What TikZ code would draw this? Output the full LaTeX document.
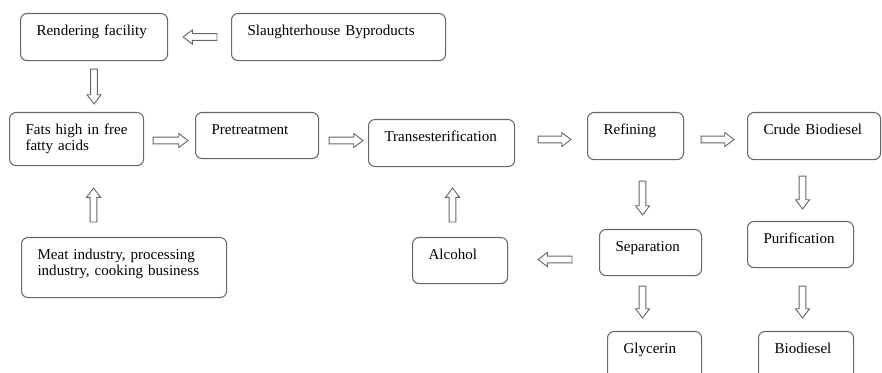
\documentclass[tikz,border=0pt]{standalone}
\usepackage{fontspec}
\setmainfont{Liberation Serif}
\usetikzlibrary{calc}

\begin{document}
\begin{tikzpicture}[
        x=0.025cm, y=-0.025cm,
        font=\fontsize{10.7}{11.4}\selectfont,
        box/.style 2 args={draw=black!60, line width=0.75pt, rectangle, rounded corners=0.16cm,
            anchor=north west, align=left, inner xsep=0.4cm, inner ysep=0pt,
            text height=0.55cm, text width=#1, text depth=#2},
        blockarrow/.style={draw=black!60, line width=0.65pt, to path={
            let \p1=(\tikztostart), \p2=(\tikztotarget),
                \n1={atan2(\y2-\y1,\x2-\x1)}, \n2={veclen(\x2-\x1,\y2-\y1)-6.6pt} in
            ($(\p1)+(\n1+90:2.4pt)$) -- ++(\n1:\n2*1pt) -- ++(\n1+90:2.6pt) -- (\p2)
            -- ($(\p1)+(\n1:\n2*1pt)+(\n1-90:5pt)$) -- ++(\n1+90:2.6pt)
            -- ($(\p1)+(\n1-90:2.4pt)$) -- cycle}}
    ]
        \clip (0,0) rectangle (882,373);

        \node[box={2.875cm}{0.625cm}] (rend) at (20,13) {Rendering facility};
        \node[box={4.55cm}{0.625cm}] (slaughter) at (231,13) {Slaughterhouse Byproducts};
        \node[box={2.55cm}{0.775cm}] (fats) at (9,112) {Fats high in free\\fatty acids};
        \node[box={2.275cm}{0.6cm}] (pretreat) at (195,112) {Pretreatment};
        \node[box={2.85cm}{0.625cm}] (trans) at (368,119) {Transesterification};
        \node[box={1.6cm}{0.625cm}] (refine) at (587,112) {Refining};
        \node[box={2.525cm}{0.625cm}] (crude) at (747,112) {Crude~Biodiesel};
        \node[box={4.325cm}{0.95cm}] (meat) at (21,237) {Meat industry, processing\\industry, cooking business};
        \node[box={1.575cm}{0.6cm}] (alcohol) at (412,237) {Alcohol};
        \node[box={1.75cm}{0.6cm}] (separate) at (599,229) {Separation};
        \node[box={1.85cm}{0.6cm}] (purify) at (747,221) {Purification};
        \node[box={1.55cm}{0.7cm}] (glycerin) at (607,331) {Glycerin};
        \node[box={1.575cm}{0.7cm}] (biodiesel) at (758,331) {Biodiesel};

        \draw[blockarrow] ($(slaughter.west)+(-14,0)$) to ($(rend.east)+(15,0)$);
        \draw[blockarrow] ($(rend.south)+(0,8)$) to ($(rend.south |- fats.north)+(0,-8)$);
        \draw[blockarrow] ($(fats.east)+(9,1.5)$) to ($(pretreat.west)+(-7,5)$);
        \draw[blockarrow] ($(pretreat.east)+(10,5)$) to ($(trans.west)+(-5,-2.5)$);
        \draw[blockarrow] ($(trans.east)+(23,-3.5)$) to ($(refine.west)+(-16,3.5)$);
        \draw[blockarrow] ($(refine.east)+(17,3.5)$) to ($(crude.west)+(-13,3.5)$);
        \draw[blockarrow] ($(meat.north)+(-30.5,-15)$) to ($(meat.north |- fats.south)+(-30.5,22)$);
        \draw[blockarrow] ($(alcohol.north)+(-7.5,-15)$) to ($(alcohol.north |- trans.south)+(-7.5,21)$);
        \draw[blockarrow] ($(refine.south)+(7,21)$) to ($(refine.south |- separate.north)+(7,-14)$);
        \draw[blockarrow] ($(crude.south)+(-11.5,16)$) to ($(crude.south |- purify.north)+(-11.5,-12)$);
        \draw[blockarrow] ($(separate.west)+(-27,7)$) to ($(alcohol.east)+(30,-1)$);
        \draw[blockarrow] ($(separate.south)+(-8,10)$) to ($(separate.south |- glycerin.north)+(-8,-13)$);
        \draw[blockarrow] ($(purify.south)+(2,18)$) to ($(purify.south |- biodiesel.north)+(2,-13)$);
    \end{tikzpicture}
\end{document}
